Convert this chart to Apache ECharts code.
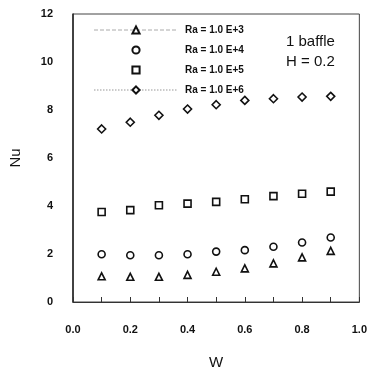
<!DOCTYPE html>
<html>
<head>
<meta charset="utf-8">
<script src="https://cdn.jsdelivr.net/npm/echarts@6/dist/echarts.min.js"></script>
<style>
  html, body { margin: 0; padding: 0; background: #fff; }
  #chart { width: 370px; height: 375px; }
</style>
</head>
<body>
<div id="chart"></div>
<script>
// Average Nusselt number vs. baffle parameter W, one baffle, H = 0.2
const wValues = [0.1, 0.2, 0.3, 0.4, 0.5, 0.6, 0.7, 0.8, 0.9];
const nuRa1e3 = [1.07, 1.05, 1.05, 1.13, 1.26, 1.40, 1.61, 1.86, 2.13];
const nuRa1e4 = [1.99, 1.95, 1.95, 1.99, 2.10, 2.16, 2.30, 2.48, 2.69];
const nuRa1e5 = [3.75, 3.83, 4.03, 4.10, 4.17, 4.28, 4.41, 4.51, 4.60];
const nuRa1e6 = [7.21, 7.49, 7.78, 8.04, 8.22, 8.40, 8.47, 8.54, 8.57];
const seriesNames = ['Ra = 1.0 E+3', 'Ra = 1.0 E+4', 'Ra = 1.0 E+5', 'Ra = 1.0 E+6'];
const seriesSymbols = ['triangle', 'circle', 'rect', 'diamond'];
const seriesValues = [nuRa1e3, nuRa1e4, nuRa1e5, nuRa1e6];

const font = '"Liberation Sans", Arial, sans-serif';
const chart = echarts.init(document.getElementById('chart'), null, { renderer: 'canvas' });

const series = seriesNames.map((name, i) => ({
  name: name,
  type: 'line',
  data: wValues.map((w, j) => [w, seriesValues[i][j]]),
  symbol: seriesSymbols[i],
  symbolSize: i === 3 ? 8 : 7,
  showSymbol: true,
  lineStyle: { opacity: 0 },
  itemStyle: { color: '#fff', borderColor: '#111', borderWidth: 1.6 },
  emphasis: { disabled: true },
  animation: false
}));

const legendLine = [
  { type: 'dashed', color: '#aaa', width: 1, opacity: 1 },
  { opacity: 0 },
  { opacity: 0 },
  { type: 'dotted', color: '#bbb', width: 1.5, opacity: 1 }
];

chart.setOption({
  backgroundColor: '#fff',
  animation: false,
  grid: {
    left: 73, right: 9, top: 14, bottom: 73,
    show: true, borderColor: '#444', borderWidth: 1
  },
  legend: {
    orient: 'vertical',
    left: 88, top: 20,
    itemWidth: 84, itemHeight: 9, itemGap: 10,
    selectedMode: false,
    data: seriesNames.map((n, i) => ({ name: n, lineStyle: legendLine[i] })),
    textStyle: { fontFamily: font, fontSize: 10, color: '#111', fontWeight: 'bold', padding: [0, 0, 0, 2] }
  },
  xAxis: {
    type: 'value', min: 0, max: 1, interval: 0.2,
    axisLine: { show: true, lineStyle: { color: '#333', width: 1 } },
    axisTick: { show: true, inside: true, length: 5, lineStyle: { color: '#333' } },
    minorTick: { show: true, splitNumber: 2, length: 5, lineStyle: { color: '#333' } },
    splitLine: { show: false },
    axisLabel: {
      margin: 22, fontFamily: font, fontSize: 11, fontWeight: 'bold', color: '#111',
      formatter: v => v.toFixed(1)
    },
    name: 'W', nameLocation: 'middle', nameGap: 53,
    nameTextStyle: { fontFamily: font, fontSize: 15, color: '#111' }
  },
  yAxis: {
    type: 'value', min: 0, max: 12, interval: 2,
    axisLine: { show: true, lineStyle: { color: '#222', width: 1.5 } },
    axisTick: { show: false },
    splitLine: { show: false },
    axisLabel: { margin: 20, fontFamily: font, fontSize: 11, fontWeight: 'bold', color: '#111' },
    name: 'Nu', nameLocation: 'middle', nameGap: 50, nameRotate: 90,
    nameTextStyle: { fontFamily: font, fontSize: 15, color: '#111' }
  },
  graphic: [
    { type: 'text', left: 286, top: 34,
      style: { text: '1 baffle', font: '15px ' + font, fill: '#111' } },
    { type: 'text', left: 286, top: 54,
      style: { text: 'H = 0.2', font: '15px ' + font, fill: '#111' } }
  ],
  series: series
});
</script>
</body>
</html>
